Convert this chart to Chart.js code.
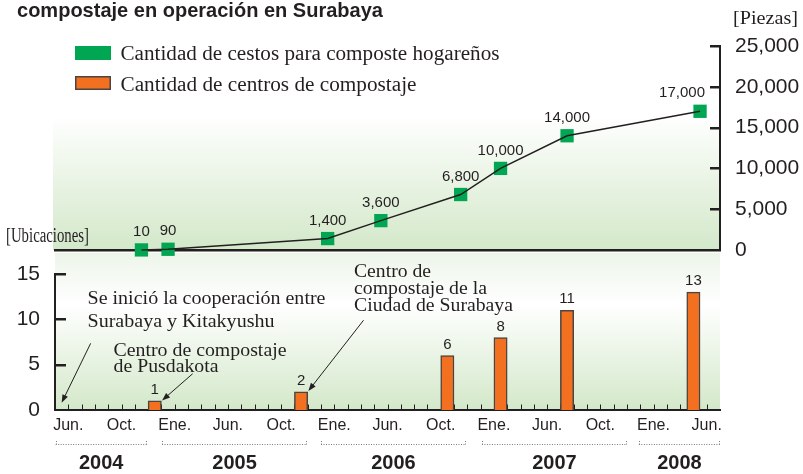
<!DOCTYPE html>
<html><head><meta charset="utf-8">
<script src="https://cdn.jsdelivr.net/npm/chart.js@4.4.1/dist/chart.umd.min.js"></script>
<style>
html,body{margin:0;padding:0;background:#fff;}
#wrap{position:relative;width:803px;height:474px;overflow:hidden;}
#wrap canvas{position:absolute;left:0;top:0;}
</style></head><body>
<div id="wrap"><canvas id="cvBottom" width="803" height="474"></canvas><canvas id="cvTop" width="803" height="474"></canvas></div>
<script>
// ---------- data ----------
const titleText = 'compostaje en operación en Surabaya';
const basketLabel = 'Cantidad de cestos para composte hogareños';
const centerLabel = 'Cantidad de centros de compostaje';
const topUnit = '[Piezas]';
const bottomUnit = '[Ubicaciones]';
// x positions are in month-tick units of the common time axis (0 .. 50)
const monthTickPositions = [1, 5, 9, 13, 17, 21, 25, 29, 33, 37, 41, 45, 49];
const monthLabels = ['Jun.', 'Oct.', 'Ene.', 'Jun.', 'Oct.', 'Ene.', 'Jun.', 'Oct.', 'Ene.', 'Jun.', 'Oct.', 'Ene.', 'Jun.'];
const years = ['2004', '2005', '2006', '2007', '2008'];
const yearStart = [0.05, 8.05, 20, 32.1, 43.9];
const yearEnd = [6.9, 18.95, 30.9, 43, 50];
const basketX = [6.5, 8.5, 20.5, 24.5, 30.5, 33.5, 38.5, 48.5];
const basketValues = [10, 90, 1400, 3600, 6800, 10000, 14000, 17000];
const centerX = [7.5, 18.5, 29.5, 33.5, 38.5, 48];
const centerValues = [1, 2, 6, 8, 11, 13];
const topTicks = [0, 5000, 10000, 15000, 20000, 25000];
const bottomTicks = [0, 5, 10, 15];

// ---------- styles ----------
const INK = '#231f20';
const GREEN = '#00a651';
const ORANGE = '#f37021';
const BAR_EDGE = '#4a4540';
const SANS = '"Liberation Sans", Arial, Helvetica, sans-serif';
const SERIF = '"Liberation Serif", "Times New Roman", Times, serif';
Chart.defaults.color = INK;

function fitText(ctx, text, x, y, font, targetW, align) {
  ctx.save();
  ctx.font = font;
  ctx.fillStyle = INK;
  ctx.textBaseline = 'alphabetic';
  ctx.textAlign = align || 'left';
  const w = ctx.measureText(text).width;
  const s = targetW ? targetW / w : 1;
  ctx.translate(x, y);
  ctx.scale(s, 1);
  ctx.fillText(text, 0, 0);
  ctx.restore();
}
function arrow(ctx, x1, y1, x2, y2) {
  const ang = Math.atan2(y2 - y1, x2 - x1);
  const L = 8, H = 3;
  ctx.save();
  ctx.strokeStyle = INK; ctx.fillStyle = INK; ctx.lineWidth = 1;
  ctx.beginPath(); ctx.moveTo(x1, y1);
  ctx.lineTo(x2 - Math.cos(ang) * (L - 1), y2 - Math.sin(ang) * (L - 1)); ctx.stroke();
  ctx.beginPath();
  ctx.moveTo(x2, y2);
  ctx.lineTo(x2 - L * Math.cos(ang) + H * Math.sin(ang), y2 - L * Math.sin(ang) - H * Math.cos(ang));
  ctx.lineTo(x2 - L * Math.cos(ang) - H * Math.sin(ang), y2 - L * Math.sin(ang) + H * Math.cos(ang));
  ctx.closePath(); ctx.fill();
  ctx.restore();
}

// ---------- top chart (baskets) ----------
const basketPoints = basketX.map((x, i) => ({x: x, y: basketValues[i]}));
const topDecor = {
  id: 'topDecor',
  beforeDraw(chart) {
    const {ctx, chartArea: a} = chart;
    const g = ctx.createLinearGradient(0, a.top, 0, a.bottom);
    g.addColorStop(0, '#ffffff');
    g.addColorStop(0.34, '#ffffff');
    g.addColorStop(1, '#d3e8c9');
    ctx.save(); ctx.fillStyle = g;
    ctx.fillRect(a.left - 2, a.top, a.right - a.left + 2, a.bottom - a.top);
    ctx.restore();
  },
  afterDatasetsDraw(chart) {
    const {ctx, chartArea: a} = chart;
    const meta = chart.getDatasetMeta(0);
    ctx.save();
    ctx.font = '15px ' + SANS; ctx.fillStyle = INK;
    ctx.textAlign = 'center'; ctx.textBaseline = 'middle';
    meta.data.forEach((el, i) => {
      const txt = basketValues[i].toLocaleString('en-US');
      const w = ctx.measureText(txt).width;
      let cx = el.x;
      if (cx + w / 2 > a.right - 15) cx = a.right - 15 - w / 2;
      ctx.fillText(txt, cx, el.y - 18);
    });
    ctx.restore();
  },
  afterDraw(chart) {
    const {ctx, chartArea: a} = chart;
    const ys = chart.scales.y;
    ctx.save();
    ctx.strokeStyle = INK; ctx.lineWidth = 2.5;
    topTicks.forEach(v => {
      if (v === 0) return;
      const y = Math.round(ys.getPixelForValue(v)) + 0.25;
      ctx.beginPath(); ctx.moveTo(a.right - 10, y); ctx.lineTo(a.right, y); ctx.stroke();
    });
    ctx.restore();
    // title
    fitText(ctx, titleText, 17, 17, 'bold 21px ' + SANS, 366);
    // units
    fitText(ctx, topUnit, 733, 24, '18px ' + SERIF, 65);
    fitText(ctx, bottomUnit, 6, 241.5, '20px ' + SERIF, 83);
    // legend
    ctx.save();
    ctx.fillStyle = chart.data.datasets[0].pointBackgroundColor;
    ctx.fillRect(75, 46, 36, 14);
    ctx.fillStyle = ORANGE; ctx.fillRect(75, 76, 36, 14);
    ctx.strokeStyle = BAR_EDGE; ctx.lineWidth = 1.5; ctx.strokeRect(75.75, 76.75, 34.5, 12.5);
    ctx.restore();
    fitText(ctx, basketLabel, 120.5, 60, '20px ' + SERIF, 379);
    fitText(ctx, centerLabel, 120.5, 90.5, '20px ' + SERIF, 296);
  }
};

new Chart(document.getElementById('cvTop'), {
  type: 'line',
  data: {
    datasets: [
      {label: basketLabel, data: basketPoints, showLine: false, pointStyle: 'rect', pointRadius: 9.4,
       pointBackgroundColor: GREEN, pointBorderColor: GREEN, pointBorderWidth: 0, order: 2, clip: false},
      {label: basketLabel + ' (línea)', data: basketPoints, borderColor: INK, borderWidth: 1.5,
       pointRadius: 0, fill: false, tension: 0, order: 1, clip: false}
    ]
  },
  options: {
    responsive: false, animation: false, events: [],
    layout: {padding: {left: 55, top: 46, right: 0, bottom: 224}},
    plugins: {legend: {display: false}, tooltip: {enabled: false}, title: {display: false}},
    scales: {
      x: {type: 'linear', min: 0, max: 50, ticks: {display: false}, grid: {display: false, drawTicks: false},
          border: {display: true, color: INK, width: 2.5}, afterFit: s => { s.height = 0; }},
      y: {position: 'right', min: 0, max: 25000,
          afterBuildTicks: s => { s.ticks = topTicks.map(v => ({value: v})); },
          ticks: {padding: 15, color: INK, font: {family: SANS, size: 21},
                  callback: v => v.toLocaleString('en-US')},
          grid: {display: false, drawTicks: false}, border: {display: true, color: INK, width: 2},
          afterFit: s => { s.width = 83; }}
    }
  },
  plugins: [topDecor]
});

// ---------- bottom chart (centres) ----------
const bottomDecor = {
  id: 'bottomDecor',
  beforeDraw(chart) {
    const {ctx, chartArea: a} = chart;
    const top = 253;
    const g = ctx.createLinearGradient(0, top, 0, a.bottom);
    g.addColorStop(0, '#edf5e9');
    g.addColorStop(0.33, '#ffffff');
    g.addColorStop(1, '#d3e8c9');
    ctx.save(); ctx.fillStyle = g;
    ctx.fillRect(a.left, top, a.right - a.left, a.bottom - top);
    ctx.restore();
  },
  beforeDatasetsDraw(chart) {
    const {ctx, chartArea: a} = chart;
    const xs = chart.scales.x;
    ctx.save();
    ctx.strokeStyle = INK; ctx.lineWidth = 1;
    for (let k = 1; k < 50; k++) {
      const x = Math.round(xs.getPixelForValue(k)) + 0.5;
      ctx.beginPath(); ctx.moveTo(x, a.bottom); ctx.lineTo(x, a.bottom - 5.5); ctx.stroke();
    }
    ctx.restore();
  },
  afterDatasetsDraw(chart) {
    const {ctx} = chart;
    const meta = chart.getDatasetMeta(0);
    ctx.save();
    ctx.font = '15px ' + SANS; ctx.fillStyle = INK;
    ctx.textAlign = 'center'; ctx.textBaseline = 'middle';
    meta.data.forEach((el, i) => { ctx.fillText(String(centerValues[i]), el.x, el.y - 11); });
    ctx.restore();
  },
  afterDraw(chart) {
    const {ctx, chartArea: a} = chart;
    const xs = chart.scales.x, ys = chart.scales.y;
    ctx.save();
    ctx.strokeStyle = INK; ctx.lineWidth = 2.5;
    bottomTicks.forEach(v => {
      if (v === 0) return;
      const y = Math.round(ys.getPixelForValue(v)) + 0.25;
      ctx.beginPath(); ctx.moveTo(a.left, y); ctx.lineTo(a.left + 11, y); ctx.stroke();
    });
    ctx.restore();
    // year brackets
    ctx.save();
    ctx.strokeStyle = '#7a7a7a'; ctx.lineWidth = 1; ctx.setLineDash([1, 1.5]);
    const by = 444.5;
    years.forEach((yr, i) => {
      const x1 = xs.getPixelForValue(yearStart[i]), x2 = xs.getPixelForValue(yearEnd[i]);
      ctx.beginPath(); ctx.moveTo(x1, by); ctx.lineTo(x2, by); ctx.stroke();
      ctx.beginPath(); ctx.moveTo(Math.round(x1) + 0.5, by); ctx.lineTo(Math.round(x1) + 0.5, by - 5); ctx.stroke();
      ctx.beginPath(); ctx.moveTo(Math.round(x2) - 0.5, by); ctx.lineTo(Math.round(x2) - 0.5, by - 5); ctx.stroke();
    });
    ctx.setLineDash([]);
    ctx.font = 'bold 20px ' + SANS; ctx.fillStyle = INK;
    ctx.textAlign = 'center'; ctx.textBaseline = 'middle';
    years.forEach((yr, i) => {
      const cx = (xs.getPixelForValue(yearStart[i]) + xs.getPixelForValue(yearEnd[i])) / 2;
      ctx.fillText(yr, cx, 463);
    });
    ctx.restore();
    // annotations
    const F = '18px ' + SERIF;
    fitText(ctx, 'Se inició la cooperación entre', 87.5, 304, F, 238);
    fitText(ctx, 'Surabaya y Kitakyushu', 87.5, 326.5, F, 187);
    fitText(ctx, 'Centro de compostaje', 113.5, 355.5, F, 173);
    fitText(ctx, 'de Pusdakota', 113.5, 372, F, 105);
    fitText(ctx, 'Centro de', 354, 277, F, 77);
    fitText(ctx, 'compostaje de la', 354, 293.5, F, 133);
    fitText(ctx, 'Ciudad de Surabaya', 354, 310.5, F, 159);
    const P = (x, y) => [xs.getPixelForValue(x), ys.getPixelForValue(y)];
    let t, h;
    t = P(2.68, 7.35); h = P(0.5, 0.8); arrow(ctx, t[0], t[1], h[0], h[1]);
    t = P(10.35, 4.0); h = P(8.05, 1.05); arrow(ctx, t[0], t[1], h[0], h[1]);
    t = P(23.2, 9.9); h = P(19.05, 2.1); arrow(ctx, t[0], t[1], h[0], h[1]);
  }
};

new Chart(document.getElementById('cvBottom'), {
  type: 'bar',
  data: {
    datasets: [{label: centerLabel, data: centerX.map((x, i) => ({x: x, y: centerValues[i]})),
      backgroundColor: ORANGE, borderColor: BAR_EDGE, borderWidth: 1.5, borderSkipped: 'start',
      barThickness: 13.3}]
  },
  options: {
    responsive: false, animation: false, events: [],
    layout: {padding: {left: 0, top: 274, right: 83, bottom: 0}},
    plugins: {legend: {display: false}, tooltip: {enabled: false}},
    scales: {
      x: {type: 'linear', min: 0, max: 50, offset: false,
          afterBuildTicks: s => { s.ticks = monthTickPositions.map(v => ({value: v})); },
          ticks: {callback: (v, i) => monthLabels[i], padding: 6, maxRotation: 0, autoSkip: false,
                  font: {family: SANS, size: 16}, color: INK},
          grid: {display: false, drawTicks: false}, border: {display: true, color: INK, width: 2},
          afterFit: s => { s.height = 64; }},
      y: {min: 0, max: 15,
          afterBuildTicks: s => { s.ticks = bottomTicks.map(v => ({value: v})); },
          ticks: {padding: 15, font: {family: SANS, size: 21}, color: INK},
          grid: {display: false, drawTicks: false}, border: {display: true, color: INK, width: 2},
          afterFit: s => { s.width = 55; }}
    }
  },
  plugins: [bottomDecor]
});
</script>
</body></html>
